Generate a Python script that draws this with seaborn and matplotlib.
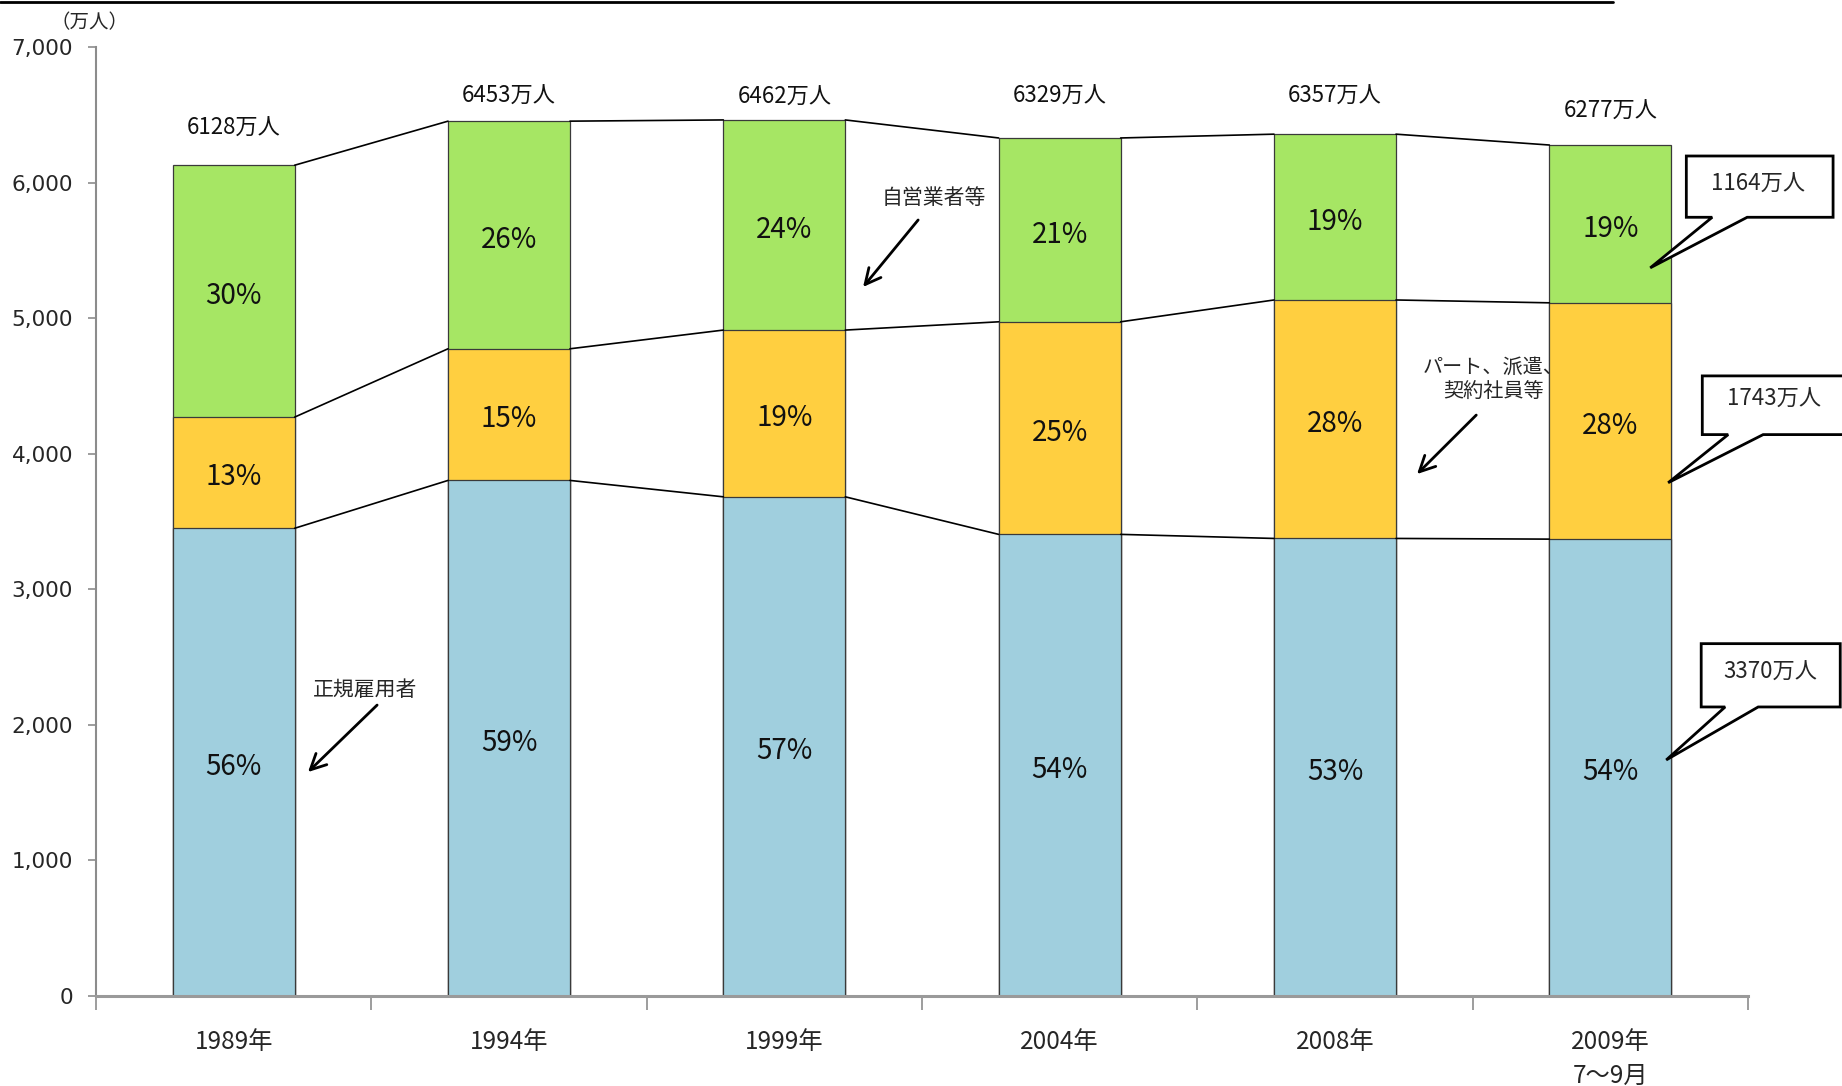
import matplotlib
matplotlib.use("Agg")
import matplotlib.pyplot as plt
import seaborn as sns
import numpy as np
import pandas as pd
from matplotlib.lines import Line2D
from matplotlib.patches import Polygon

# ---------------- data ----------------
years = ["1989年", "1994年", "1999年", "2004年", "2008年", "2009年\n7〜9月"]
regular = [3450, 3803, 3682, 3405, 3375, 3370]      # 正規雇用者
part = [820, 971, 1230, 1568, 1759, 1743]           # パート、派遣、契約社員等
self_emp = [1858, 1679, 1550, 1356, 1223, 1164]     # 自営業者等
totals = [6128, 6453, 6462, 6329, 6357, 6277]
pct_regular = [56, 59, 57, 54, 53, 54]
pct_part = [13, 15, 19, 25, 28, 28]
pct_self = [30, 26, 24, 21, 19, 19]
yticks = [0, 1000, 2000, 3000, 4000, 5000, 6000, 7000]
callout_values = ["1164万人", "1743万人", "3370万人"]

# ---------------- style ----------------
sns.set_theme(style="white")
plt.rcParams["font.family"] = ["Noto Sans CJK JP", "DejaVu Sans"]

C_BLUE = "#A0CFDE"
C_YEL = "#FFCF40"
C_GRN = "#A6E664"
EDGE = "#3a3a3a"

W, H = 1842, 1086
fig = plt.figure(figsize=(W / 100, H / 100), dpi=100)
ax = fig.add_axes([96 / W, (H - 996) / H, (1748 - 96) / W, (996 - 47) / H])

df = pd.DataFrame({
    "year": years,
    "regular": regular,
    "part": part,
    "self": self_emp,
})
df["lvl1"] = df["regular"]
df["lvl2"] = df["regular"] + df["part"]
df["lvl3"] = df["lvl2"] + df["self"]

bw = 0.443
common = dict(width=bw, edgecolor=EDGE, linewidth=0.9, saturation=1, ax=ax, order=years)
sns.barplot(data=df, x="year", y="lvl3", color=C_GRN, **common)
sns.barplot(data=df, x="year", y="lvl2", color=C_YEL, **common)
sns.barplot(data=df, x="year", y="lvl1", color=C_BLUE, **common)

# connecting lines between bars
for col in ["lvl1", "lvl2", "lvl3"]:
    v = df[col].values
    for i in range(len(v) - 1):
        ax.plot([i + bw / 2, i + 1 - bw / 2], [v[i], v[i + 1]], color="black", lw=1.2, zorder=3)

# percent labels
pkw = dict(textcoords="offset points", xytext=(0, -3.4), ha="center", va="center",
           fontsize=20, color="#111")
for i in range(len(years)):
    r, p, s = df.loc[i, ["regular", "part", "self"]]
    ax.annotate(f"{pct_regular[i]}%", xy=(i, r / 2), **pkw)
    ax.annotate(f"{pct_part[i]}%", xy=(i, r + p / 2), **pkw)
    ax.annotate(f"{pct_self[i]}%", xy=(i, r + p + s / 2), **pkw)

# total labels (manual offsets in pixels as in the original)
offs_px = [36.5, 24.5, 22.5, 41.5, 37.5, 33.5]
for i, t in enumerate(totals):
    ax.annotate(f"{t}万人", xy=(i, t), xytext=(0, offs_px[i] * 0.72), textcoords="offset points",
                ha="center", va="center", fontsize=16, color="#111")

# axes styling
ax.set_xlim(-0.5, 5.5)
ax.set_ylim(0, 7000)
ax.set_yticks(yticks)
ax.set_yticklabels([f"{v:,}" for v in yticks], fontsize=15.5, family=["DejaVu Sans"])
ax.set_xlabel("")
ax.set_ylabel("")
sns.despine(ax=ax)
ax.spines["left"].set_color("#8c8c8c")
ax.spines["left"].set_linewidth(1.5)
ax.spines["bottom"].set_color("#9a9a9a")
ax.spines["bottom"].set_linewidth(2.2)
ax.tick_params(axis="y", direction="out", length=6, width=1.2, color="#8c8c8c", pad=10.5, left=True)
ax.set_xticks(range(len(years)))
ax.set_xticklabels(years, fontsize=17.5)
for lab in ax.get_xticklabels():
    lab.set_linespacing(1.4)
ax.tick_params(axis="x", which="major", length=0, pad=24)
ax.set_xticks(np.arange(-0.5, 6.0, 1.0), minor=True)
ax.tick_params(axis="x", which="minor", direction="out", length=10, width=1.2, color="#8c8c8c", bottom=True)
ax.grid(False)

# annotation arrows
arrow = dict(arrowstyle="->", lw=2, color="black", mutation_scale=28, shrinkA=0, shrinkB=0)
ax.annotate("", xy=(0.270, 1652), xytext=(0.521, 2146), arrowprops=arrow)
ax.text(0.477, 2257, "正規雇用者", ha="center", va="center", fontsize=15)
ax.annotate("", xy=(2.286, 5230), xytext=(2.486, 5724), arrowprops=arrow)
ax.text(2.544, 5886, "自営業者等", ha="center", va="center", fontsize=15)
ax.annotate("", xy=(4.298, 3850), xytext=(4.513, 4285), arrowprops=arrow)
ax.text(4.574, 4544, "パート、派遣、\n契約社員等", ha="center", va="center", fontsize=14.5, linespacing=1.25)

# callout boxes (right side)
boxes = [
    # left, right, top, bottom, tip(x,y), base(xl,xr), text(x,y)
    (5.276, 5.809, 6196, 5744, (5.145, 5371), (5.370, 5.497), (5.538, 5986)),
    (5.334, 5.90, 4574, 4141, (5.210, 3786), (5.428, 5.555), (5.594, 4400)),
    (5.330, 5.835, 2599, 2132, (5.203, 1741), (5.417, 5.537), (5.581, 2390)),
]
for (l, r, t, b, tip, base, tpos), lab in zip(boxes, callout_values):
    verts = [(l, t), (r, t), (r, b), (base[1], b), tip, (base[0], b), (l, b)]
    poly = Polygon(verts, closed=True, facecolor="white", edgecolor="black", lw=2, clip_on=False, zorder=5)
    ax.add_patch(poly)
    ax.text(tpos[0], tpos[1], lab, ha="center", va="center", fontsize=16, zorder=6, clip_on=False)

# unit label and top rule
fig.text(89 / W, 1 - 23 / H, "（万人）", ha="center", va="center", fontsize=14)
fig.add_artist(Line2D([0, 1613 / W], [1 - 1.5 / H, 1 - 1.5 / H], color="black", lw=2))

fig.savefig("out.png", dpi=100)
